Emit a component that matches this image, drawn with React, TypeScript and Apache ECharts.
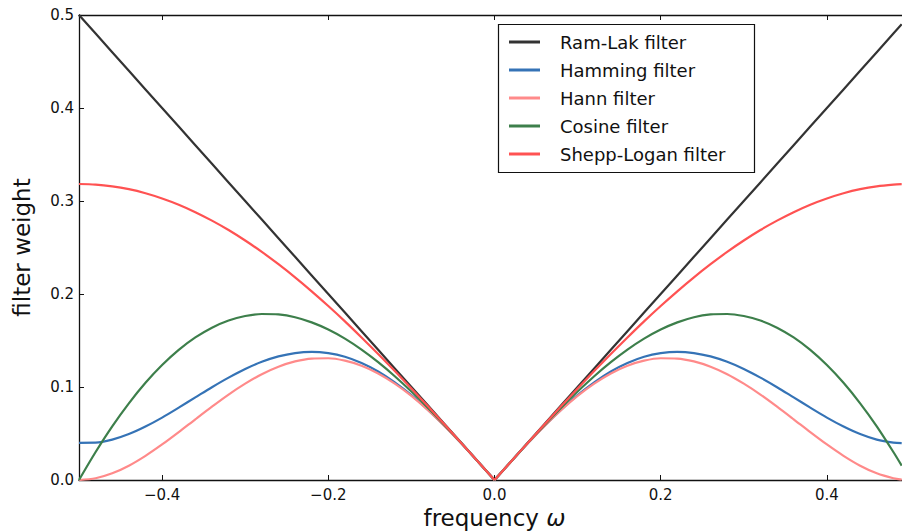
import React, { useEffect, useRef } from "react";
import * as echarts from "echarts";

const frequency = [
  -0.5, -0.48, -0.46, -0.44, -0.42, -0.4, -0.38, -0.36, -0.34, -0.32, -0.3, -0.28, -0.26,
  -0.24, -0.22, -0.2, -0.18, -0.16, -0.14, -0.12, -0.1, -0.08, -0.06, -0.04, -0.02, 0,
  0.02, 0.04, 0.06, 0.08, 0.1, 0.12, 0.14, 0.16, 0.18, 0.2, 0.22, 0.24, 0.26, 0.28, 0.3,
  0.32, 0.34, 0.36, 0.38, 0.4, 0.42, 0.44, 0.46, 0.48, 0.49,
];

const ramLak = [
  0.5, 0.48, 0.46, 0.44, 0.42, 0.4, 0.38, 0.36, 0.34, 0.32, 0.3, 0.28, 0.26,
  0.24, 0.22, 0.2, 0.18, 0.16, 0.14, 0.12, 0.1, 0.08, 0.06, 0.04, 0.02, 0,
  0.02, 0.04, 0.06, 0.08, 0.1, 0.12, 0.14, 0.16, 0.18, 0.2, 0.22, 0.24, 0.26, 0.28, 0.3,
  0.32, 0.34, 0.36, 0.38, 0.4, 0.42, 0.44, 0.46, 0.48, 0.49,
];

const hamming = [
  0.04, 0.0401, 0.0434, 0.0494, 0.0575, 0.0671, 0.0778, 0.0888, 0.0998, 0.1101, 0.1194, 0.1271, 0.1329,
  0.1365, 0.1378, 0.1364, 0.1325, 0.1258, 0.1167, 0.105, 0.0912, 0.0754, 0.0581, 0.0394, 0.0199, 0,
  0.0199, 0.0394, 0.0581, 0.0754, 0.0912, 0.105, 0.1167, 0.1258, 0.1325, 0.1364, 0.1378, 0.1365, 0.1329, 0.1271, 0.1194,
  0.1101, 0.0998, 0.0888, 0.0778, 0.0671, 0.0575, 0.0494, 0.0434, 0.0401, 0.0396,
];

const hann = [
  0, 0.0019, 0.0072, 0.0154, 0.026, 0.0382, 0.0515, 0.0653, 0.0789, 0.0919, 0.1036, 0.1138, 0.1218,
  0.1275, 0.1306, 0.1309, 0.1283, 0.1229, 0.1146, 0.1037, 0.0905, 0.0751, 0.0579, 0.0394, 0.0199, 0,
  0.0199, 0.0394, 0.0579, 0.0751, 0.0905, 0.1037, 0.1146, 0.1229, 0.1283, 0.1309, 0.1306, 0.1275, 0.1218, 0.1138, 0.1036,
  0.0919, 0.0789, 0.0653, 0.0515, 0.0382, 0.026, 0.0154, 0.0072, 0.0019, 0.0005,
];

const cosine = [
  0, 0.0301, 0.0577, 0.0824, 0.1045, 0.1236, 0.1399, 0.1533, 0.1638, 0.1715, 0.1763, 0.1785, 0.178,
  0.175, 0.1695, 0.1618, 0.152, 0.1402, 0.1267, 0.1116, 0.0951, 0.0775, 0.0589, 0.0397, 0.02, 0,
  0.02, 0.0397, 0.0589, 0.0775, 0.0951, 0.1116, 0.1267, 0.1402, 0.152, 0.1618, 0.1695, 0.175, 0.178, 0.1785, 0.1763,
  0.1715, 0.1638, 0.1533, 0.1399, 0.1236, 0.1045, 0.0824, 0.0577, 0.0301, 0.0154,
];

const sheppLogan = [
  0.3183, 0.3177, 0.3158, 0.3127, 0.3083, 0.3027, 0.296, 0.288, 0.2789, 0.2688, 0.2575, 0.2453, 0.232,
  0.2179, 0.2029, 0.1871, 0.1706, 0.1533, 0.1355, 0.1172, 0.0984, 0.0792, 0.0596, 0.0399, 0.02, 0,
  0.02, 0.0399, 0.0596, 0.0792, 0.0984, 0.1172, 0.1355, 0.1533, 0.1706, 0.1871, 0.2029, 0.2179, 0.232, 0.2453, 0.2575,
  0.2688, 0.2789, 0.288, 0.296, 0.3027, 0.3083, 0.3127, 0.3158, 0.3177, 0.3182,
];

const seriesNames = ["Ram-Lak filter", "Hamming filter", "Hann filter", "Cosine filter", "Shepp-Logan filter"];
const seriesValues = [ramLak, hamming, hann, cosine, sheppLogan];
const seriesColors = ["#333333", "#3573b6", "#ff8a8a", "#3d7f4b", "#ff5252"];

const xTicks = [-0.4, -0.2, 0, 0.2, 0.4];

const FONT = "DejaVu Sans";
const INK = "#111111";

export default function App() {
  const ref = useRef<HTMLDivElement>(null);

  useEffect(() => {
    document.body.style.margin = "0";
    if (!ref.current) return;
    const chart = echarts.init(ref.current, null, { renderer: "svg" });

    const fmtX = (v: number) => (v < 0 ? "\u2212" + Math.abs(v).toFixed(1) : v.toFixed(1));
    const zeroIdx = frequency.indexOf(0);

    const series: any[] = [];
    seriesNames.forEach((name, k) => {
      const pts = frequency.map((f, i) => [f, seriesValues[k][i]]);
      const halves = k === 0 ? [pts] : [pts.slice(0, zeroIdx + 1), pts.slice(zeroIdx)];
      halves.forEach((data) => {
        series.push({
          name,
          type: "line",
          xAxisIndex: 0,
          data,
          showSymbol: false,
          symbol: "none",
          smooth: k === 0 ? false : 0.3,
          lineStyle: { color: seriesColors[k], width: 2.2 },
          itemStyle: { color: seriesColors[k] },
          z: 2 + k,
        });
      });
    });

    const option: any = {
      animation: false,
      backgroundColor: "#ffffff",
      grid: { left: 79, top: 15, right: -8, bottom: 51, containLabel: false, outerBoundsMode: "none" },
      xAxis: [
        {
          type: "value",
          min: -0.5,
          max: 0.5,
          position: "bottom",
          name: "frequency {w|ω}",
          nameLocation: "middle",
          nameGap: 20,
          nameTextStyle: {
            fontFamily: FONT,
            fontSize: 23,
            color: INK,
            verticalAlign: "top",
            rich: { w: { fontFamily: FONT, fontSize: 23, fontStyle: "italic", color: INK } },
          },
          axisLine: { show: true, onZero: false, lineStyle: { color: INK, width: 1.3 } },
          axisTick: { show: true, inside: true, length: 5, customValues: xTicks, lineStyle: { color: INK, width: 1 } },
          axisLabel: {
            show: true,
            customValues: xTicks,
            formatter: fmtX,
            fontFamily: FONT,
            fontSize: 15,
            color: INK,
            margin: 7,
          },
          splitLine: { show: false },
        },
        {
          type: "value",
          min: -0.5,
          max: 0.5,
          position: "top",
          axisLine: { show: true, onZero: false, lineStyle: { color: INK, width: 1.3 } },
          axisTick: { show: true, inside: true, length: 5, customValues: xTicks, lineStyle: { color: INK, width: 1 } },
          axisLabel: { show: false },
          splitLine: { show: false },
        },
      ],
      yAxis: {
        type: "value",
        min: 0,
        max: 0.5,
        interval: 0.1,
        name: "filter weight",
        nameLocation: "middle",
        nameGap: 46,
        nameTextStyle: { fontFamily: FONT, fontSize: 23, color: INK },
        axisLine: { show: true, onZero: false, lineStyle: { color: INK, width: 1.3 } },
        axisTick: { show: true, inside: true, length: 5, lineStyle: { color: INK, width: 1 } },
        axisLabel: {
          formatter: (v: number) => v.toFixed(1),
          fontFamily: FONT,
          fontSize: 15,
          color: INK,
          margin: 5,
        },
        splitLine: { show: false },
      },
      legend: {
        show: true,
        orient: "vertical",
        left: 509,
        top: 32,
        z: 10,
        icon: "rect",
        itemWidth: 31,
        itemHeight: 3,
        itemGap: 8,
        padding: 0,
        data: seriesNames,
        textStyle: {
          fontFamily: FONT,
          fontSize: 18,
          color: INK,
          lineHeight: 20,
          padding: [0, 0, 0, 15],
        },
      },
      graphic: [
        {
          type: "rect",
          z: 5,
          shape: { x: 498.5, y: 24.5, width: 256, height: 148 },
          style: { fill: "#ffffff", stroke: INK, lineWidth: 1.2 },
        },
      ],
      series,
    };

    chart.setOption(option);
    return () => chart.dispose();
  }, []);

  return <div ref={ref} style={{ width: 902, height: 531 }} />;
}
